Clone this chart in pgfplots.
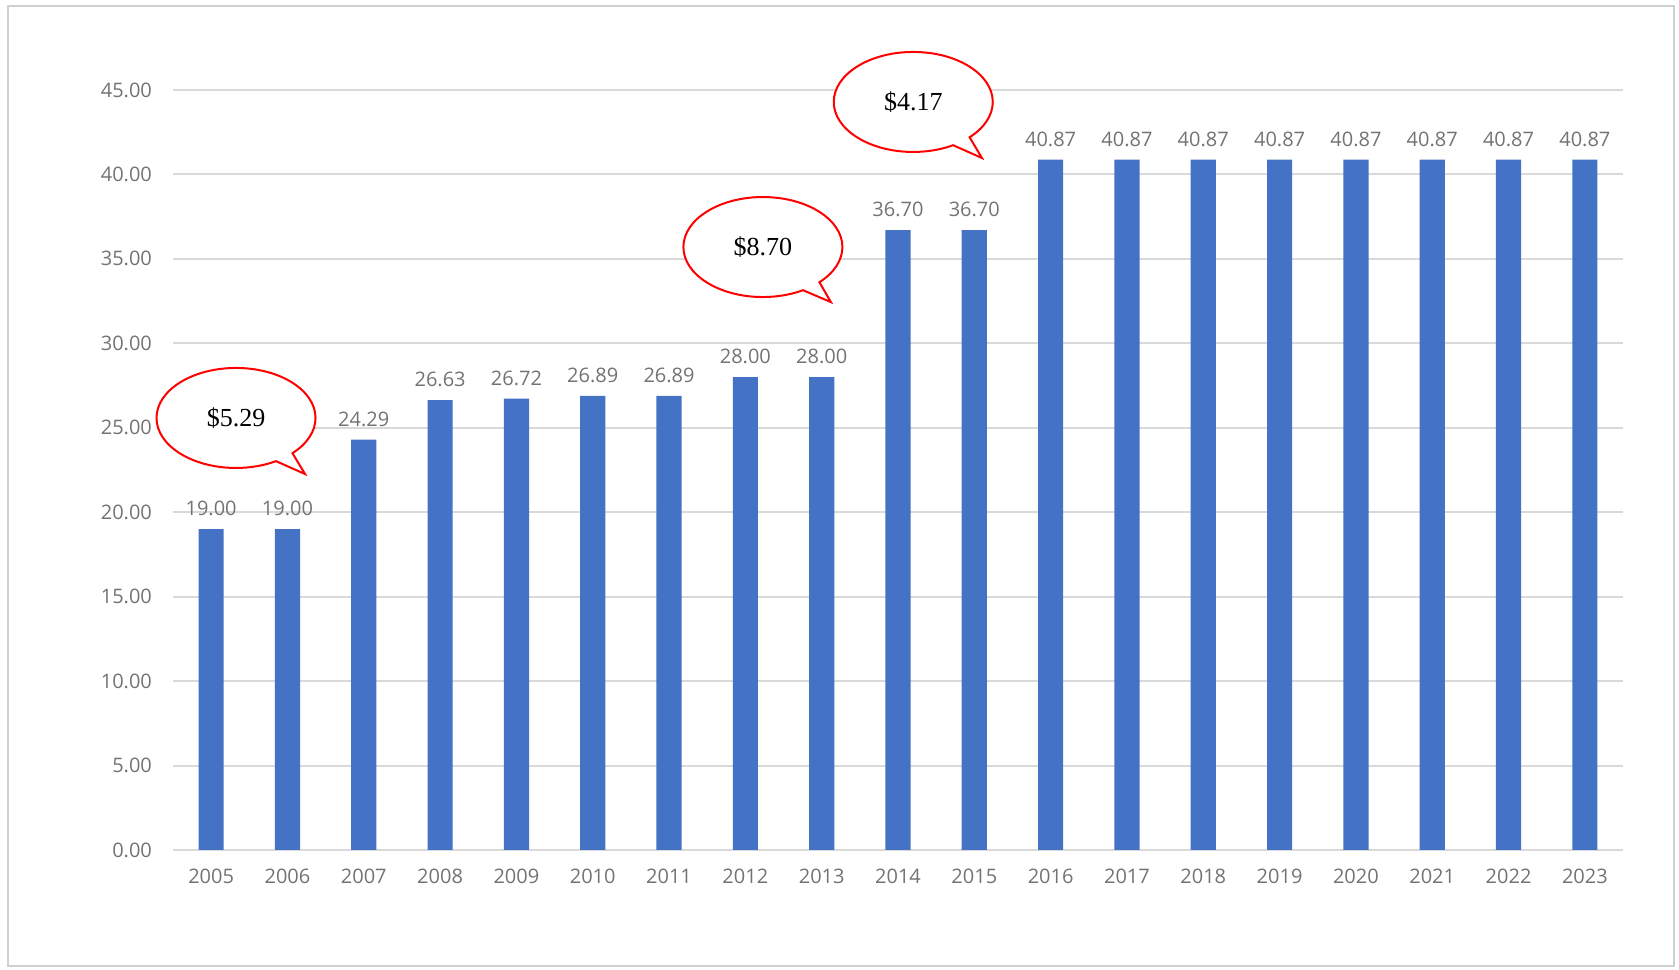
\documentclass[border=0pt]{standalone}
\usepackage{pgfplots}
\pgfplotsset{compat=1.18}
\usepackage{fontspec}
\setmainfont{Open Sans}
\newfontfamily\timesf{Liberation Serif}
\usetikzlibrary{shapes.callouts}
\definecolor{barblue}{HTML}{4472C4}
\definecolor{gridgray}{HTML}{D9D9D9}
\definecolor{txtgray}{HTML}{737373}
\definecolor{framegray}{HTML}{D0D0D0}
\begin{document}
\begin{tikzpicture}
\begin{axis}[
  scale only axis,
  width=725pt, height=380pt,
  xmin=-0.5, xmax=18.5,
  ymin=0, ymax=45,
  ytick={0,5,...,45},
  xtick={0,...,18},
  xticklabels={2005,2006,2007,2008,2009,2010,2011,2012,2013,2014,2015,2016,2017,2018,2019,2020,2021,2022,2023},
  axis line style={draw=none},
  major tick length=0pt,
  ymajorgrids,
  grid style={gridgray, line width=1pt},
  ticklabel style={font=\fontsize{10}{12}\selectfont, text=txtgray},
  /pgf/number format/assume math mode=true,
  yticklabel={\pgfmathprintnumber[fixed,fixed zerofill,precision=2]{\tick}},
  yticklabel style={xshift=-7pt},
  xticklabel style={yshift=-6pt},
  clip=false,
  ybar, bar width=0.33,
  nodes near coords={\pgfmathprintnumber[fixed,fixed zerofill,precision=2]{\pgfplotspointmeta}},
  nodes near coords style={font=\fontsize{10}{12}\selectfont, text=txtgray, yshift=3pt},
]
\addplot[fill=barblue, draw=none] coordinates {
(0,19.00) (1,19.00) (2,24.29) (3,26.63) (4,26.72) (5,26.89) (6,26.89) (7,28.00) (8,28.00)
(9,36.70) (10,36.70) (11,40.87) (12,40.87) (13,40.87) (14,40.87) (15,40.87) (16,40.87) (17,40.87) (18,40.87)};
% frame
\draw[framegray, line width=1pt] (rel axis cs:-0.1138,-0.1526) rectangle (rel axis cs:1.0352,1.1105);
\path (rel axis cs:-0.1193,-0.1579) rectangle (rel axis cs:1.0386,1.1184);
% callouts
\node[ellipse callout, draw=red, line width=1pt, fill=white, minimum width=79.5pt, minimum height=50pt, inner sep=0pt,
  callout absolute pointer={(axis cs:1.23,22.26)}, font=\timesf\fontsize{13}{15}\selectfont]
  at (axis cs:0.326,25.58) {\$5.29};
\node[ellipse callout, draw=red, line width=1pt, fill=white, minimum width=79.5pt, minimum height=50pt, inner sep=0pt,
  callout absolute pointer={(axis cs:8.12,32.44)}, font=\timesf\fontsize{13}{15}\selectfont]
  at (axis cs:7.23,35.70) {\$8.70};
\node[ellipse callout, draw=red, line width=1pt, fill=white, minimum width=79.5pt, minimum height=50pt, inner sep=0pt,
  callout absolute pointer={(axis cs:10.10,40.97)}, font=\timesf\fontsize{13}{15}\selectfont]
  at (axis cs:9.20,44.29) {\$4.17};
\end{axis}
\end{tikzpicture}
\end{document}
